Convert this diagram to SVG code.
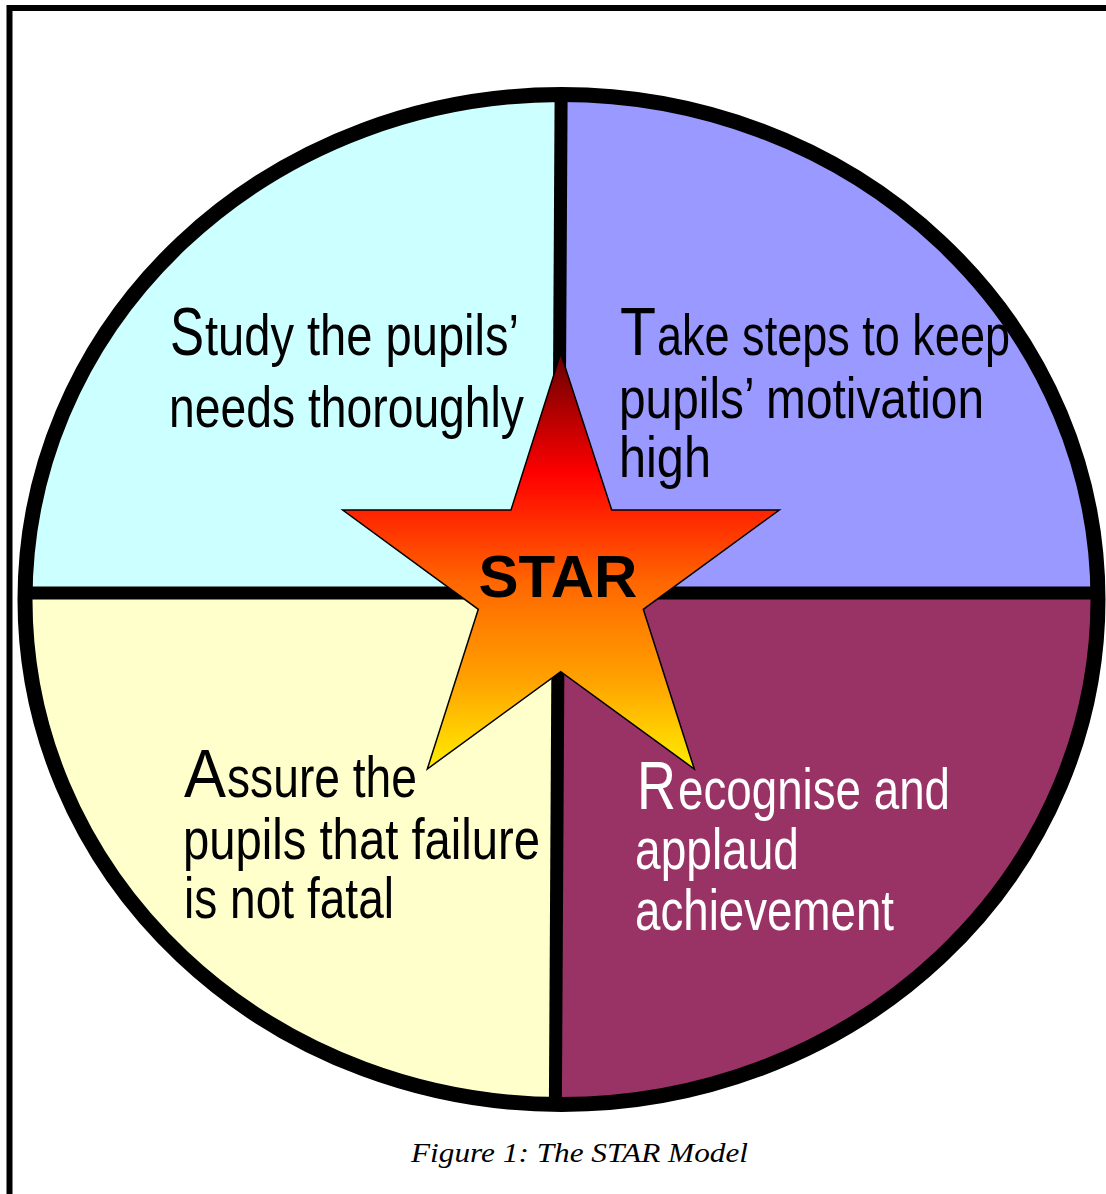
<svg xmlns="http://www.w3.org/2000/svg" width="1106" height="1194" viewBox="0 0 1106 1194">
  <style>
    .body { font-family: "Liberation Sans Narrow", "Liberation Sans", Arial, sans-serif; font-size: 58px; }
    .cap { font-size: 68px; }
    .dark { fill: #000000; }
    .light { fill: #ffffff; }
    .divider { stroke: #000000; stroke-width: 13; fill: none; }
  </style>
  <defs>
    <clipPath id="disc">
      <ellipse cx="561.5" cy="599.5" rx="536.5" ry="505"/>
    </clipPath>
    <linearGradient id="starFill" gradientUnits="userSpaceOnUse" x1="0" y1="353" x2="0" y2="769">
      <stop offset="0" stop-color="#660000"/>
      <stop offset="0.29" stop-color="#ff0000"/>
      <stop offset="0.55" stop-color="#ff6600"/>
      <stop offset="0.78" stop-color="#ffa000"/>
      <stop offset="1" stop-color="#ffee00"/>
    </linearGradient>
  </defs>

  <rect width="1106" height="1194" fill="#ffffff"/>

  <!-- page frame -->
  <path d="M9.5,1200 V8 H1110" fill="none" stroke="#000000" stroke-width="6"/>

  <!-- quadrant fills -->
  <g clip-path="url(#disc)">
    <rect id="fill-study" x="0" y="0" width="559" height="593" fill="#ccffff"/>
    <rect id="fill-take" x="559" y="0" width="547" height="593" fill="#9999ff"/>
    <rect id="fill-assure" x="0" y="593" width="559" height="601" fill="#ffffcc"/>
    <rect id="fill-recognise" x="559" y="593" width="547" height="601" fill="#993366"/>
  </g>

  <!-- quadrant dividers -->
  <g id="connectors" clip-path="url(#disc)">
    <line class="divider" x1="0" y1="593" x2="1106" y2="593"/>
    <line class="divider" x1="561.2" y1="80" x2="555.3" y2="1120"/>
  </g>

  <!-- outer rim -->
  <ellipse cx="561.5" cy="599.5" rx="536.5" ry="505" fill="none" stroke="#000000" stroke-width="15"/>

  <g id="node-study" class="body dark">
    <text class="cap" x="170" y="355" textLength="34" lengthAdjust="spacingAndGlyphs">S</text>
    <text x="205" y="355" textLength="314" lengthAdjust="spacingAndGlyphs">tudy the pupils’</text>
    <text x="169" y="427" textLength="355" lengthAdjust="spacingAndGlyphs">needs thoroughly</text>
  </g>

  <g id="node-take" class="body dark">
    <text class="cap" x="620" y="355" textLength="36" lengthAdjust="spacingAndGlyphs">T</text>
    <text x="657" y="355" textLength="353" lengthAdjust="spacingAndGlyphs">ake steps to keep</text>
    <text x="619" y="418" textLength="365" lengthAdjust="spacingAndGlyphs">pupils’ motivation</text>
    <text x="619" y="477" textLength="92" lengthAdjust="spacingAndGlyphs">high</text>
  </g>

  <g id="node-assure" class="body dark">
    <text class="cap" x="184" y="797" textLength="42" lengthAdjust="spacingAndGlyphs">A</text>
    <text x="227" y="797" textLength="190" lengthAdjust="spacingAndGlyphs">ssure the</text>
    <text x="183" y="859" textLength="357" lengthAdjust="spacingAndGlyphs">pupils that failure</text>
    <text x="184" y="918" textLength="210" lengthAdjust="spacingAndGlyphs">is not fatal</text>
  </g>

  <g id="node-recognise" class="body light">
    <text class="cap" x="637" y="809" textLength="39" lengthAdjust="spacingAndGlyphs">R</text>
    <text x="678" y="809" textLength="272" lengthAdjust="spacingAndGlyphs">ecognise and</text>
    <text x="635" y="869" textLength="164" lengthAdjust="spacingAndGlyphs">applaud</text>
    <text x="635" y="930" textLength="259" lengthAdjust="spacingAndGlyphs">achievement</text>
  </g>

  <g id="node-star">
    <polygon points="560.7,353.3 611.7,510 779.3,510 643.3,609.3 694.3,769 560.7,671.7 427.3,769 478.3,609.3 342.7,510 511,510" fill="url(#starFill)" stroke="#000000" stroke-width="1.5" stroke-linejoin="miter"/>
    <text x="558" y="597" text-anchor="middle" font-family="'Liberation Sans', Arial, sans-serif" font-weight="bold" font-size="60" fill="#000000">STAR</text>
  </g>

  <g id="caption">
    <text x="411" y="1162" font-family="'Liberation Serif', 'Times New Roman', Times, serif" font-style="italic" font-size="27" fill="#000000" textLength="337" lengthAdjust="spacingAndGlyphs">Figure 1: The STAR Model</text>
  </g>
</svg>
